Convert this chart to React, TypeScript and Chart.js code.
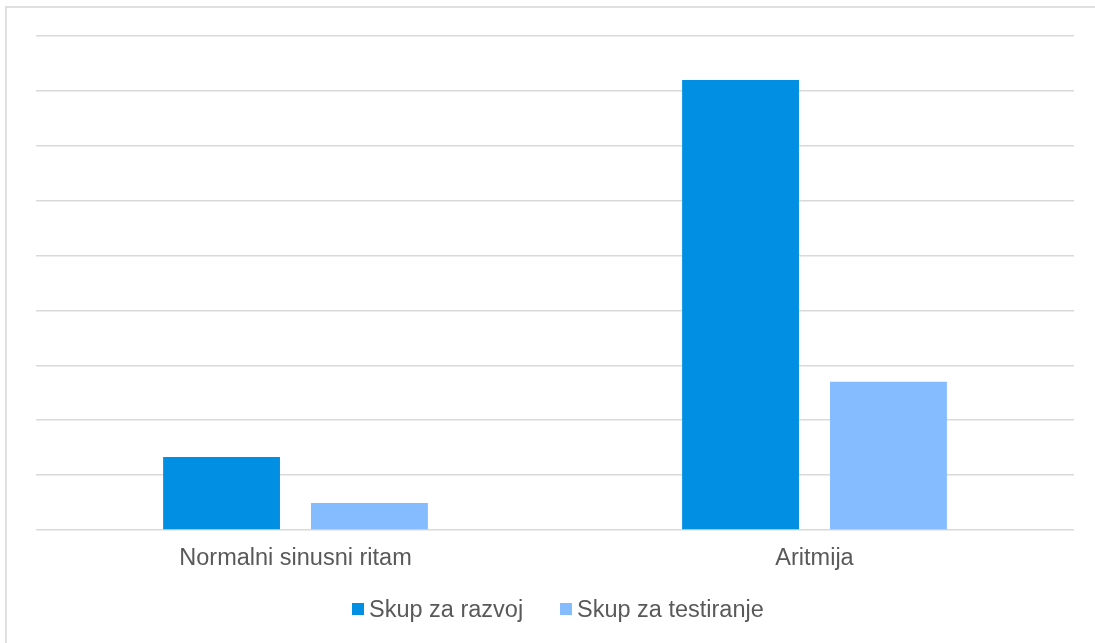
import React, { useEffect, useRef } from "react";
import { Chart, registerables } from "chart.js";

Chart.register(...registerables);

const categories = ["Normalni sinusni ritam", "Aritmija"];
const seriesNames = ["Skup za razvoj", "Skup za testiranje"];
const razvojValues = [1.33, 8.2];
const testiranjeValues = [0.49, 2.7];
const seriesColors = ["#008FE2", "#85BBFF"];

const FONT_FAMILY = "'Liberation Sans', Arial, sans-serif";
const FONT_SIZE = 23.5;
const TEXT_COLOR = "#595959";

export default function App() {
  const ref = useRef<HTMLCanvasElement | null>(null);

  useEffect(() => {
    if (!ref.current) return;
    const font = { family: FONT_FAMILY, size: FONT_SIZE };
    const chart = new Chart(ref.current, {
      type: "bar",
      data: {
        labels: categories,
        datasets: [
          {
            label: seriesNames[0],
            data: razvojValues,
            backgroundColor: seriesColors[0],
            borderWidth: 0,
          },
          {
            label: seriesNames[1],
            data: testiranjeValues,
            backgroundColor: seriesColors[1],
            borderWidth: 0,
          },
        ],
      },
      options: {
        responsive: false,
        animation: false,
        devicePixelRatio: 1,
        datasets: { bar: { categoryPercentage: 0.57, barPercentage: 0.79 } },
        layout: { padding: { left: 36, right: 21, top: 36, bottom: 0 } },
        plugins: {
          tooltip: { enabled: false },
          legend: { display: false },
        },
        scales: {
          x: {
            grid: { display: false, drawTicks: false },
            border: { display: false },
            ticks: { font, color: TEXT_COLOR, padding: 14 },
            afterFit: (s: any) => {
              s.height = 113;
            },
          },
          y: {
            min: 0,
            max: 9,
            ticks: { display: false, stepSize: 1 },
            grid: { color: "#d9d9d9", lineWidth: 1.5, drawTicks: false },
            border: { display: false },
            afterFit: (s: any) => {
              s.width = 0;
            },
          },
        },
      },
    });
    return () => chart.destroy();
  }, []);

  const legendItems = [
    { boxLeft: 352, textLeft: 369 },
    { boxLeft: 560, textLeft: 577 },
  ];

  return (
    <div
      style={{
        position: "fixed",
        left: 0,
        top: 0,
        width: 1095,
        height: 643,
        background: "#fff",
        overflow: "hidden",
      }}
    >
      <div
        style={{
          position: "absolute",
          left: 5,
          top: 6,
          width: 1120,
          height: 700,
          border: "2px solid #e0e0e0",
          boxSizing: "border-box",
        }}
      />
      <canvas
        ref={ref}
        width={1095}
        height={643}
        style={{ position: "absolute", left: 0, top: 0, width: 1095, height: 643 }}
      />
      {seriesNames.map((name, i) => (
        <React.Fragment key={name}>
          <div
            style={{
              position: "absolute",
              left: legendItems[i].boxLeft,
              top: 603,
              width: 12,
              height: 12,
              background: seriesColors[i],
            }}
          />
          <span
            style={{
              position: "absolute",
              left: legendItems[i].textLeft,
              top: 598,
              fontFamily: FONT_FAMILY,
              fontSize: FONT_SIZE,
              lineHeight: 1,
              color: TEXT_COLOR,
              whiteSpace: "nowrap",
            }}
          >
            {name}
          </span>
        </React.Fragment>
      ))}
    </div>
  );
}
